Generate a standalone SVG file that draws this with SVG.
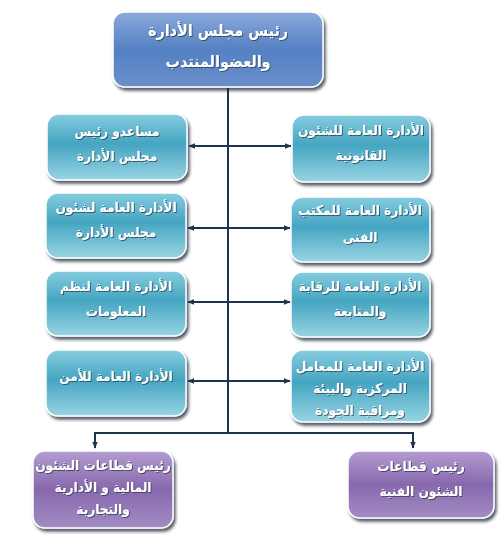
<svg xmlns="http://www.w3.org/2000/svg" width="500" height="541" viewBox="0 0 500 541">
<defs>
<linearGradient id="gBlue" x1="0" y1="0" x2="0" y2="1">
<stop offset="0" stop-color="#8aaadb"/>
<stop offset="0.5" stop-color="#5580c2"/>
<stop offset="1" stop-color="#6a8fcb"/>
</linearGradient>
<linearGradient id="gTeal" x1="0" y1="0" x2="0" y2="1">
<stop offset="0" stop-color="#86cde0"/>
<stop offset="0.45" stop-color="#45a5c1"/>
<stop offset="1" stop-color="#98d4e4"/>
</linearGradient>
<linearGradient id="gPurple" x1="0" y1="0" x2="0" y2="1">
<stop offset="0" stop-color="#b39dd0"/>
<stop offset="0.5" stop-color="#8768ad"/>
<stop offset="1" stop-color="#a38cc3"/>
</linearGradient>
<filter id="sh" x="-10%" y="-10%" width="125%" height="130%">
<feDropShadow dx="2" dy="3" stdDeviation="1.5" flood-color="#1c2a3a" flood-opacity="0.75"/>
</filter>
<filter id="tsh" x="-5%" y="-20%" width="110%" height="150%">
<feDropShadow dx="1" dy="1" stdDeviation="0.6" flood-color="#203040" flood-opacity="0.7"/>
</filter>
<marker id="ah" viewBox="0 0 10 10" refX="9" refY="5" markerWidth="7" markerHeight="7" orient="auto-start-reverse" markerUnits="userSpaceOnUse">
<path d="M0,1 L10,5 L0,9 Z" fill="#1f3350"/>
</marker>
</defs>
<style>
.box{stroke:#ffffff;stroke-width:1.5;filter:url(#sh)}
.t{font-family:"DejaVu Sans Condensed","DejaVu Sans",sans-serif;font-stretch:condensed;font-weight:bold;font-size:13.5px;fill:#ffffff;text-anchor:middle;direction:rtl;filter:url(#tsh)}
.h{font-size:16px}
.c{stroke:#1f3350;stroke-width:2;fill:none}
</style>
<rect width="500" height="541" fill="#ffffff"/>
<g id="connectors">
<line class="c" x1="228" y1="87" x2="228" y2="433"/>
<line class="c" x1="189" y1="146" x2="291" y2="146" marker-start="url(#ah)" marker-end="url(#ah)"/>
<line class="c" x1="188" y1="228" x2="290" y2="228" marker-start="url(#ah)" marker-end="url(#ah)"/>
<line class="c" x1="188" y1="302" x2="290" y2="302" marker-start="url(#ah)" marker-end="url(#ah)"/>
<line class="c" x1="188" y1="381" x2="290" y2="381" marker-start="url(#ah)" marker-end="url(#ah)"/>
<polyline class="c" points="95,448 95,433 413,433 413,448"/>
<line class="c" x1="95" y1="440" x2="95" y2="448" marker-end="url(#ah)"/>
<line class="c" x1="413" y1="440" x2="413" y2="448" marker-end="url(#ah)"/>
</g>
<g id="top">
<rect class="box" x="113" y="12" width="210" height="75" rx="12" fill="url(#gBlue)"/>
<text class="t h" x="218" y="36">رئيس مجلس الأدارة</text>
<text class="t h" x="218" y="67">والعضوالمنتدب</text>
</g>
<g id="l1">
<rect class="box" x="47" y="114" width="140" height="66" rx="12" fill="url(#gTeal)"/>
<text class="t" x="117" y="136">مساعدو رئيس</text>
<text class="t" x="117" y="161">مجلس الأدارة</text>
</g>
<g id="r1">
<rect class="box" x="292" y="115" width="138" height="67" rx="12" fill="url(#gTeal)"/>
<text class="t" x="361" y="135">الأدارة العامة للشئون</text>
<text class="t" x="361" y="160">القانونية</text>
</g>
<g id="l2">
<rect class="box" x="46" y="193" width="140" height="65" rx="12" fill="url(#gTeal)"/>
<text class="t" x="116" y="212">الأدارة العامة لشئون</text>
<text class="t" x="116" y="237">مجلس الأدارة</text>
</g>
<g id="r2">
<rect class="box" x="291" y="197" width="139" height="65" rx="12" fill="url(#gTeal)"/>
<text class="t" x="360" y="215">الأدارة العامة للمكتب</text>
<text class="t" x="360" y="242">الفنى</text>
</g>
<g id="l3">
<rect class="box" x="46" y="271" width="140" height="65" rx="12" fill="url(#gTeal)"/>
<text class="t" x="116" y="291">الأدارة العامة لنظم</text>
<text class="t" x="116" y="316">المعلومات</text>
</g>
<g id="r3">
<rect class="box" x="291" y="272" width="139" height="65" rx="12" fill="url(#gTeal)"/>
<text class="t" x="360" y="291">الأدارة العامة للرقابة</text>
<text class="t" x="360" y="316">والمتابعة</text>
</g>
<g id="l4">
<rect class="box" x="46" y="350" width="140" height="66" rx="12" fill="url(#gTeal)"/>
<text class="t" x="116" y="381">الأدارة العامة للأمن</text>
</g>
<g id="r4">
<rect class="box" x="291" y="350" width="139" height="72" rx="12" fill="url(#gTeal)"/>
<text class="t" x="360" y="371">الأدارة العامة للمعامل</text>
<text class="t" x="360" y="393">المركزية والبيئة</text>
<text class="t" x="360" y="415">ومراقبة الجودة</text>
</g>
<g id="b1">
<rect class="box" x="33" y="451" width="140" height="77" rx="12" fill="url(#gPurple)"/>
<text class="t" x="103" y="470">رئيس قطاعات الشئون</text>
<text class="t" x="103" y="492">المالية و الأدارية</text>
<text class="t" x="103" y="514">والتجارية</text>
</g>
<g id="b2">
<rect class="box" x="348" y="451" width="146" height="67" rx="12" fill="url(#gPurple)"/>
<text class="t" x="421" y="471">رئيس قطاعات</text>
<text class="t" x="421" y="496">الشئون الفنية</text>
</g>
</svg>
